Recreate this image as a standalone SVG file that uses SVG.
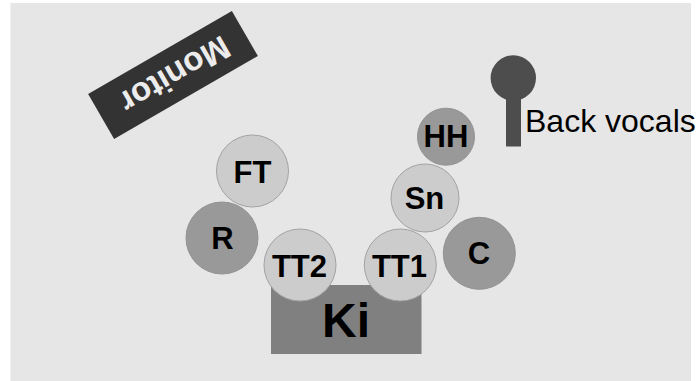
<svg xmlns="http://www.w3.org/2000/svg" width="696" height="381" viewBox="0 0 696 381">
<style>
text{font-family:"Liberation Sans",Arial,sans-serif;font-weight:bold;text-anchor:middle;fill:#000}
.l{fill:#ccc;stroke:#a3a3a3;stroke-width:1}
.d{fill:#999;stroke:#929292;stroke-width:1}
.t{font-size:31px}
</style>
<rect id="background" x="10.500" y="3" width="680.500" height="378" fill="#e6e6e6"/>
<g id="connectors"/>
<g id="monitor"><rect x="90" y="49" width="166" height="52" fill="#333" transform="rotate(-30 173 75)"/><text x="175" y="86.500" font-size="33" style="fill:#ececec" transform="rotate(150 175 75)">Monitor</text></g>
<g id="vocals"><circle cx="513.300" cy="78" r="22.700" fill="#4d4d4d"/><rect x="506" y="95" width="15" height="51.500" fill="#4d4d4d"/><text x="525" y="131.500" font-size="32" style="font-weight:normal;text-anchor:start">Back vocals</text></g>
<g id="ki"><rect x="271" y="285" width="150.500" height="69" fill="#808080"/><text x="346" y="337" font-size="48">Ki</text></g>
<g id="hh"><circle class="d" cx="446" cy="136.700" r="28.500"/><text class="t" x="446" y="147">HH</text></g>
<g id="c"><circle class="d" cx="479.300" cy="253.300" r="36"/><text class="t" x="479" y="264">C</text></g>
<g id="sn"><circle class="l" cx="425" cy="198" r="34"/><text class="t" x="424.500" y="209">Sn</text></g>
<g id="tt1"><circle class="l" cx="400.300" cy="265" r="36"/><text class="t" x="399.500" y="276.500">TT1</text></g>
<g id="tt2"><circle class="l" cx="300" cy="265" r="36"/><text class="t" x="299.500" y="276.500">TT2</text></g>
<g id="r"><circle class="d" cx="222" cy="238" r="36"/><text class="t" x="222.500" y="249">R</text></g>
<g id="ft"><circle class="l" cx="252.500" cy="171" r="36"/><text class="t" x="252.500" y="182.500">FT</text></g>
</svg>
